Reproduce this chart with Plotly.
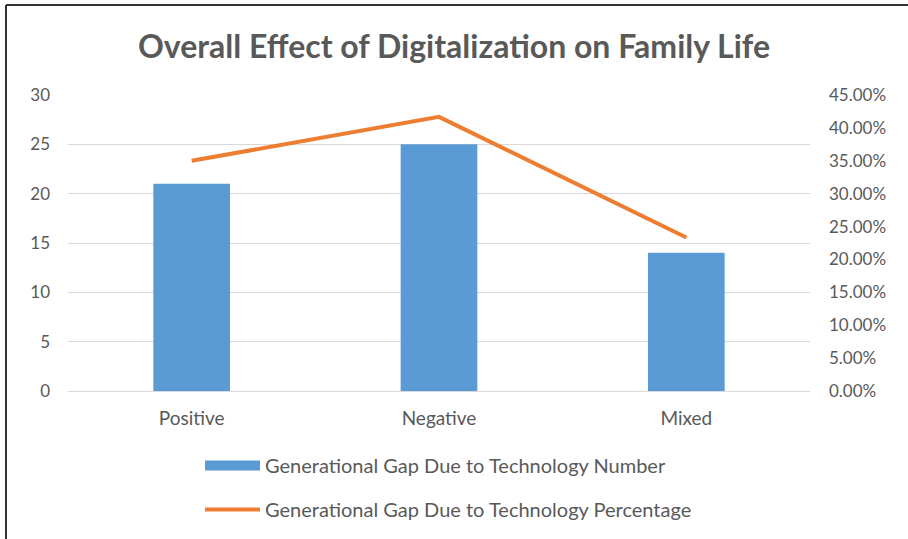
import plotly.graph_objects as go

categories = ["Positive", "Negative", "Mixed"]
gap_number = [21, 25, 14]
gap_percentage = [0.35, 0.4167, 0.2333]

left_ticks = [0, 5, 10, 15, 20, 25, 30]
right_ticks = [0, 0.05, 0.10, 0.15, 0.20, 0.25, 0.30, 0.35, 0.40, 0.45]

W, H = 908, 539
L, R, T, B = 68, 98, 95, 148
pw, ph = W - L - R, H - T - B

def px_x(x):
    return (x - L) / pw

def px_y(y):
    return (H - B - y) / ph

txt = "#595959"
bar_color = "#5B9BD5"
line_color = "#ED7D31"
font_family = "Lato, 'Open Sans', sans-serif"
bar_name = "Generational Gap Due to Technology Number"
line_name = "Generational Gap Due to Technology Percentage"

fig = go.Figure()
fig.add_trace(go.Bar(
    x=categories, y=gap_number, name=bar_name,
    marker=dict(color=bar_color, line=dict(width=0)),
    width=0.31, showlegend=False, legendgroup="a",
))
# wide swatch for the bar series in the legend
fig.add_trace(go.Scatter(
    x=[None], y=[None], name=bar_name, mode="lines",
    line=dict(color=bar_color, width=14), legendgroup="a",
))
fig.add_trace(go.Scatter(
    x=categories, y=gap_percentage, yaxis="y2", name=line_name,
    mode="lines", line=dict(color=line_color, width=4), legendgroup="b",
))

fig.update_layout(
    width=W, height=H,
    margin=dict(l=L, r=R, t=T, b=B, pad=0, autoexpand=False),
    paper_bgcolor="white", plot_bgcolor="white",
    font=dict(family=font_family, color=txt, size=17),
    title=dict(
        text="<b>Overall Effect of Digitalization on Family Life</b>",
        x=0.5, xref="container", xanchor="center",
        y=1 - 47 / H, yanchor="middle",
        font=dict(size=32, color=txt, family=font_family),
    ),
    xaxis=dict(
        showgrid=False, showline=True, linecolor="#D9D9D9", linewidth=1,
        ticks="", tickfont=dict(size=19, color=txt),
        ticklabelstandoff=10,
    ),
    yaxis=dict(
        range=[0, 30], tickvals=left_ticks, showgrid=True,
        gridcolor="#D9D9D9", gridwidth=1, zeroline=False,
        showline=False, ticks="", tickfont=dict(size=17, color=txt),
        ticklabelstandoff=17,
    ),
    yaxis2=dict(
        range=[0, 0.45], tickvals=right_ticks,
        ticktext=[f"{v*100:.2f}%" for v in right_ticks],
        overlaying="y", side="right", showgrid=False, zeroline=False,
        showline=False, ticks="", tickfont=dict(size=17, color=txt),
        ticklabelstandoff=18,
    ),
    showlegend=True,
    legend=dict(
        orientation="v", x=px_x(200), xanchor="left",
        y=px_y(446), yanchor="top",
        font=dict(size=20, color=txt, family=font_family),
        itemwidth=55, tracegroupgap=15,
        bgcolor="rgba(0,0,0,0)",
    ),
    shapes=[
        dict(type="line", xref="paper", yref="paper",
             x0=px_x(6), x1=px_x(908), y0=px_y(5), y1=px_y(5),
             line=dict(color="#333333", width=2)),
        dict(type="line", xref="paper", yref="paper",
             x0=px_x(6), x1=px_x(6), y0=px_y(5), y1=px_y(539),
             line=dict(color="#333333", width=2)),
    ],
)

fig.write_html("out.html")
